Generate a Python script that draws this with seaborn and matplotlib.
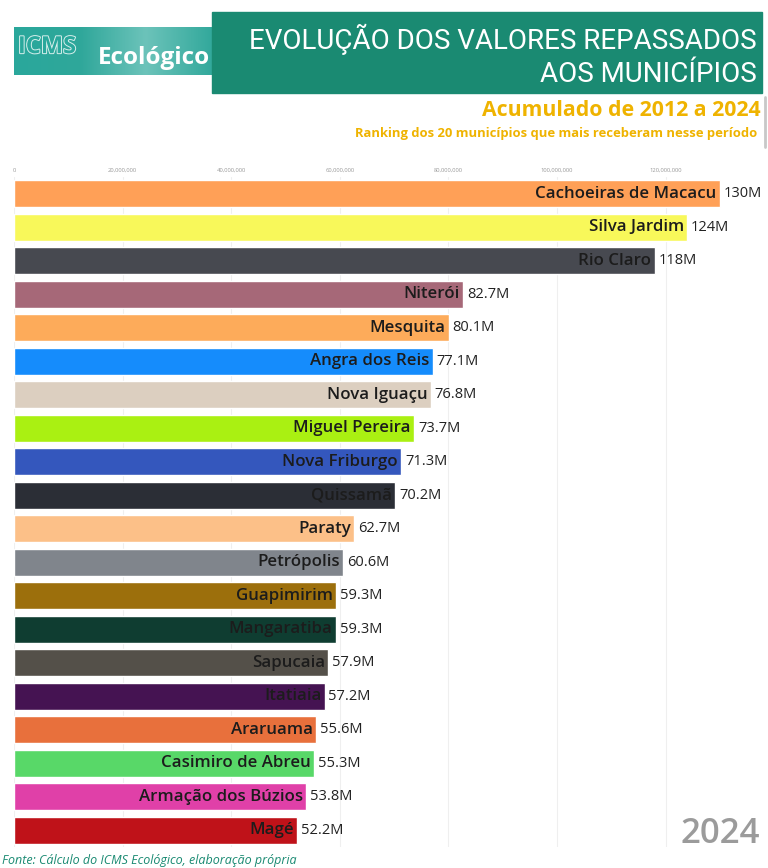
import numpy as np
import pandas as pd
import matplotlib
matplotlib.use("Agg")
import matplotlib.pyplot as plt
import matplotlib.patheffects as pe
from matplotlib.colors import LinearSegmentedColormap
from matplotlib.ticker import FuncFormatter
from matplotlib.patches import Rectangle
import seaborn as sns

municipios = [
    "Cachoeiras de Macacu", "Silva Jardim", "Rio Claro", "Niterói", "Mesquita",
    "Angra dos Reis", "Nova Iguaçu", "Miguel Pereira", "Nova Friburgo", "Quissamã",
    "Paraty", "Petrópolis", "Guapimirim", "Mangaratiba", "Sapucaia",
    "Itatiaia", "Araruama", "Casimiro de Abreu", "Armação dos Búzios", "Magé",
]
valores_mi = [130, 124, 118, 82.7, 80.1, 77.1, 76.8, 73.7, 71.3, 70.2,
              62.7, 60.6, 59.3, 59.3, 57.9, 57.2, 55.6, 55.3, 53.8, 52.2]
rotulos = ["130M", "124M", "118M", "82.7M", "80.1M", "77.1M", "76.8M", "73.7M",
           "71.3M", "70.2M", "62.7M", "60.6M", "59.3M", "59.3M", "57.9M",
           "57.2M", "55.6M", "55.3M", "53.8M", "52.2M"]
cores = ["#FFA057", "#F8F85A", "#474950", "#A66878", "#FDAB5A",
         "#158CFC", "#DCCFC0", "#AAF012", "#3457BD", "#2B2E36",
         "#FCC088", "#80858C", "#9C6F0C", "#0F3D31", "#545049",
         "#451352", "#E8703C", "#58D868", "#E040A8", "#BF1219"]
eixo_ticks = [0, 20e6, 40e6, 60e6, 80e6, 100e6, 120e6]
ano = "2024"

df = pd.DataFrame({"municipio": municipios, "valor": np.array(valores_mi) * 1e6})

sns.set_theme(style="white")
plt.rcParams["font.family"] = ["Open Sans", "DejaVu Sans"]

W, H = 768, 868
fig = plt.figure(figsize=(W / 100, H / 100), dpi=100)

def fx(px):
    return px / W

def fy(py):
    return 1 - py / H

# bar chart area
ax = fig.add_axes([fx(14), fy(847), fx(760 - 14), (847 - 177) / H])
sns.barplot(data=df, y="municipio", x="valor", hue="municipio",
            palette=dict(zip(municipios, cores)), orient="h", width=0.8,
            legend=False, ax=ax, saturation=1)
ax.set_xlim(0, 137.4e6)
ax.set_ylim(19.5, -0.5)
ax.set_xticks(eixo_ticks)
ax.xaxis.tick_top()
ax.xaxis.set_major_formatter(FuncFormatter(lambda v, p: f"{int(v):,}"))
ax.tick_params(axis="x", length=0, labelsize=4.2, labelcolor="#9a9a9a", pad=3)
ax.set_yticks([])
ax.set_xlabel("")
ax.set_ylabel("")
for s in ax.spines.values():
    s.set_visible(False)
ax.grid(axis="x", color="#efefef", linewidth=0.8)
ax.set_axisbelow(True)

for i, (nome, v, r) in enumerate(zip(municipios, valores_mi, rotulos)):
    ax.text(v * 1e6 - 0.6e6, i, nome, ha="right", va="center",
            fontsize=12.2, fontweight="semibold", color="#1c1c1c")
    ax.text(v * 1e6 + 0.7e6, i, r, ha="left", va="center",
            fontsize=10.5, color="#222222")

# header: logo block
logo = fig.add_axes([fx(14), fy(75), fx(198), 48 / H])
grad = np.linspace(0, 1, 200)[None, :]
logo.imshow(grad, aspect="auto", extent=[0, 1, 0, 1],
            cmap=LinearSegmentedColormap.from_list(
                "lg", ["#2AA89C", "#2FA79A", "#6CC3BA", "#33A99C"]))
logo.set_xlim(0, 1)
logo.set_ylim(0, 1)
logo.axis("off")
logo.text(0.02, 0.58, "ICMS", fontsize=17, color="#2AA89C", va="center", ha="left",
          fontweight="bold",
          path_effects=[pe.withStroke(linewidth=1.4, foreground="#d8efec")])
logo.text(0.99, 0.36, "Ecológico", fontsize=17.5, color="white", va="center",
          ha="right", fontweight="bold")

# header: title block
fig.patches.append(Rectangle((fx(212), fy(93)), fx(762 - 212), 81 / H,
                             transform=fig.transFigure, color="#1A8A72", zorder=0))
fig.text(fx(757), fy(39), "EVOLUÇÃO DOS VALORES REPASSADOS", ha="right", va="center",
         fontsize=20, color="white",
         family=["Roboto", "DejaVu Sans"])
fig.text(fx(757), fy(75), "AOS MUNICÍPIOS", ha="right", va="center",
         fontsize=20, color="white",
         family=["Roboto", "DejaVu Sans"])

fig.text(fx(761), fy(110), "Acumulado de 2012 a 2024", ha="right", va="center",
         fontsize=15.3, fontweight="bold", color="#EFB300")
fig.text(fx(757), fy(134), "Ranking dos 20 municípios que mais receberam nesse período",
         ha="right", va="center", fontsize=9.4, fontweight="bold", color="#EFB300")
fig.lines.append(plt.Line2D([fx(765), fx(765)], [fy(97), fy(147)],
                            transform=fig.transFigure, color="#c8c8c8", linewidth=2))

# year stamp
fig.text(fx(760), fy(834), ano, ha="right", va="center", fontsize=25,
         fontweight="semibold", color="#9b9b9b")

# source note along the bottom edge
fig.text(fx(2), fy(867), "Fonte: Cálculo do ICMS Ecológico, elaboração própria",
         ha="left", va="bottom", fontsize=9, style="italic", color="#1A8A72")

fig.savefig("out.png", dpi=100)
